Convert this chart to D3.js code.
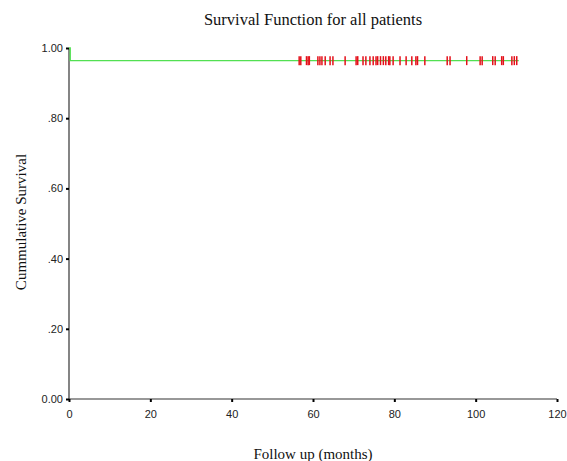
<!DOCTYPE html>
<html>
<head>
<meta charset="utf-8">
<script src="https://cdn.jsdelivr.net/npm/d3@7"></script>
<style>
  html, body { margin: 0; padding: 0; background: #fff; }
  svg { display: block; }
</style>
</head>
<body>
<script>
// Kaplan-Meier steps: event times (months) and survival after each step
const stepTimes = [0, 0.3];
const stepSurvival = [1.0, 0.964];
const lastTime = 110.6;

// Censored follow-up times (months)
const censorTimes = [
  56.6, 57.0, 58.4, 58.8, 59.1, 61.2, 61.7, 62.2, 63.0, 64.2, 64.9, 67.9,
  70.6, 71.0, 72.3, 73.0, 74.0, 74.8, 75.5, 75.9, 76.6, 77.3, 77.9, 78.6,
  78.9, 79.7, 81.4, 82.9, 84.3, 85.3, 85.7, 87.5, 93.0, 93.7, 97.8, 101.1,
  101.6, 104.2, 104.8, 106.4, 106.8, 108.9, 109.5, 110.1
];

const xTicks = [0, 20, 40, 60, 80, 100, 120];
const yTicks = [0, 0.2, 0.4, 0.6, 0.8, 1.0];
const yTickLabels = ["0.00", ".20", ".40", ".60", ".80", "1.00"];

const W = 567, H = 461;
const svg = d3.select("body").append("svg").attr("width", W).attr("height", H);

const x = d3.scaleLinear().domain([0, 120]).range([69, 557]);
const y = d3.scaleLinear().domain([0, 1]).range([399, 48]);

// Title
svg.append("text")
  .attr("x", 313).attr("y", 25)
  .attr("text-anchor", "middle")
  .style("font-family", "'Liberation Serif', 'Times New Roman', serif")
  .style("font-size", "16.5px")
  .attr("fill", "#111")
  .text("Survival Function for all patients");

// Axes
const xAxis = d3.axisBottom(x).tickValues(xTicks).tickSize(3).tickPadding(8)
  .tickFormat(d3.format("d"));
const yAxis = d3.axisLeft(y).tickValues(yTicks).tickSize(3).tickPadding(3)
  .tickFormat((d, i) => yTickLabels[i]);

const gx = svg.append("g").attr("transform", `translate(0,${y(0)})`).call(xAxis);
const gy = svg.append("g").attr("transform", `translate(${x(0)},0)`).call(yAxis);

[gx, gy].forEach(g => {
  g.select(".domain").attr("stroke", "#333").attr("stroke-width", 1.2);
  g.selectAll(".tick line").attr("stroke", "#000").attr("stroke-width", 2);
  g.selectAll(".tick text")
    .style("font-family", "'Liberation Sans', Arial, sans-serif")
    .style("font-size", "11px")
    .attr("fill", "#222");
});
gx.select(".domain").attr("d", `M${x(0)},0H${x(120)}`);
gy.select(".domain").attr("d", `M0,${y(1)}V${y(0)}`);

// Survival step line
const pts = [];
stepTimes.forEach((t, i) => {
  if (i > 0) pts.push([t, stepSurvival[i - 1]]);
  pts.push([t, stepSurvival[i]]);
});
pts.push([lastTime, stepSurvival[stepSurvival.length - 1]]);

svg.append("path")
  .datum(pts)
  .attr("fill", "none")
  .attr("stroke", "#52e052")
  .attr("stroke-width", 1.4)
  .attr("d", d3.line().x(d => x(d[0])).y(d => y(d[1])));

// Censor marks
const sLast = stepSurvival[stepSurvival.length - 1];
svg.append("g").selectAll("line")
  .data(censorTimes)
  .join("line")
  .attr("x1", d => x(d)).attr("x2", d => x(d))
  .attr("y1", y(sLast) - 4.5).attr("y2", y(sLast) + 4.5)
  .attr("stroke", "#e4101a")
  .attr("stroke-width", 1.5);

// Axis titles
svg.append("text")
  .attr("transform", "translate(26,222) rotate(-90)")
  .attr("text-anchor", "middle")
  .style("font-family", "'Liberation Serif', 'Times New Roman', serif")
  .style("font-size", "15px")
  .attr("fill", "#111")
  .text("Cummulative Survival");

svg.append("text")
  .attr("x", 313).attr("y", 459)
  .attr("text-anchor", "middle")
  .style("font-family", "'Liberation Serif', 'Times New Roman', serif")
  .style("font-size", "15px")
  .attr("fill", "#111")
  .text("Follow up (months)");
</script>
</body>
</html>
